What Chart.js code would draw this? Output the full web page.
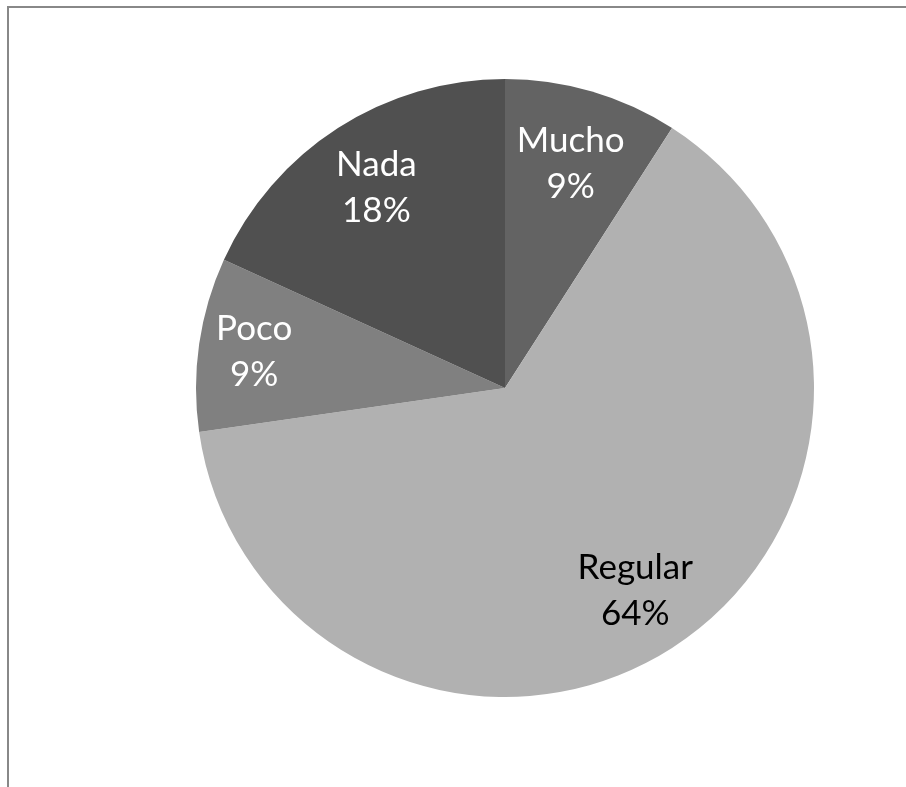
<!DOCTYPE html>
<html>
<head>
<meta charset="utf-8">
<script src="https://cdn.jsdelivr.net/npm/chart.js@4.4.0/dist/chart.umd.min.js"></script>
<style>
  html, body { margin: 0; padding: 0; background: #fff; }
  #wrap { width: 906px; height: 787px; position: relative; }
</style>
</head>
<body>
<div id="wrap"><canvas id="pieChart"></canvas></div>
<script>
const categories = ['Mucho', 'Regular', 'Poco', 'Nada'];
const counts = [1, 7, 1, 2];
const percentLabels = ['9%', '64%', '9%', '18%'];
const sliceColors = ['#636363', '#b1b1b1', '#808080', '#505050'];
const labelColors = ['#ffffff', '#000000', '#ffffff', '#ffffff'];
// how far out along the radius each label sits
const labelRadius = [0.755, 0.78, 0.82, 0.77];

// draws the top and left frame lines
const framePlugin = {
  id: 'frame',
  beforeDraw(chart) {
    const ctx = chart.ctx;
    ctx.save();
    ctx.strokeStyle = '#888888';
    ctx.lineWidth = 2;
    ctx.beginPath();
    ctx.moveTo(8, chart.height);
    ctx.lineTo(8, 7);
    ctx.lineTo(chart.width, 7);
    ctx.stroke();
    ctx.restore();
  }
};

// category + percent labels inside each slice
const sliceLabels = {
  id: 'sliceLabels',
  afterDatasetsDraw(chart) {
    const ctx = chart.ctx;
    const meta = chart.getDatasetMeta(0);
    ctx.save();
    ctx.font = '35px Lato, "Liberation Sans", sans-serif';
    ctx.textAlign = 'center';
    ctx.textBaseline = 'middle';
    meta.data.forEach((arc, i) => {
      const mid = (arc.startAngle + arc.endAngle) / 2;
      const r = arc.outerRadius * labelRadius[i];
      const x = arc.x + Math.cos(mid) * r;
      const y = arc.y + Math.sin(mid) * r;
      ctx.fillStyle = labelColors[i];
      ctx.fillText(categories[i], x, y - 23);
      ctx.fillText(percentLabels[i], x, y + 23);
    });
    ctx.restore();
  }
};

new Chart(document.getElementById('pieChart'), {
  type: 'pie',
  data: {
    labels: categories,
    datasets: [{
      data: counts,
      backgroundColor: sliceColors,
      borderWidth: 0
    }]
  },
  options: {
    responsive: true,
    maintainAspectRatio: false,
    animation: false,
    layout: { padding: { top: 79, bottom: 90, left: 196, right: 92 } },
    plugins: {
      legend: { display: false },
      tooltip: { enabled: false }
    }
  },
  plugins: [framePlugin, sliceLabels]
});
</script>
</body>
</html>
